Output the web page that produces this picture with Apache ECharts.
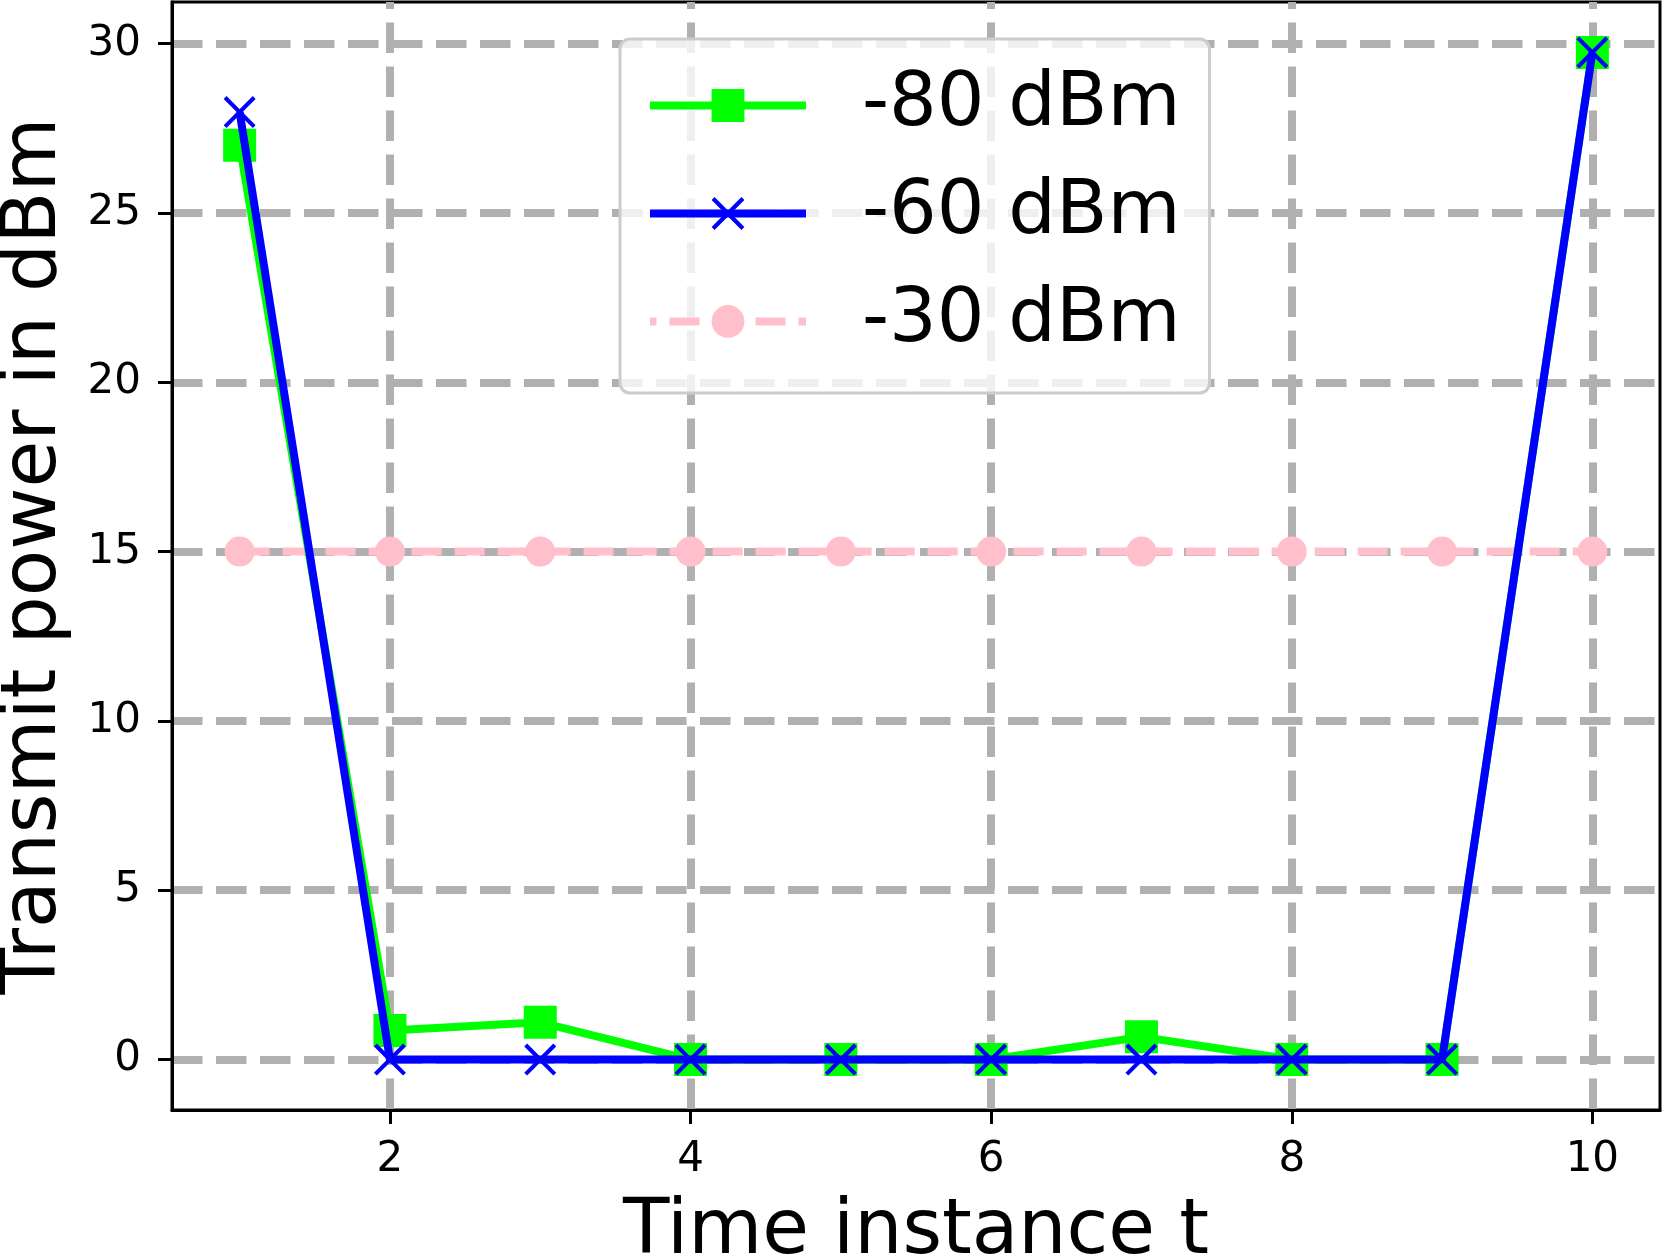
<!DOCTYPE html>
<html>
<head>
<meta charset="utf-8">
<title>Transmit power</title>
<script src="https://cdn.jsdelivr.net/npm/echarts@6/dist/echarts.min.js"></script>
<style>
  html, body { margin: 0; padding: 0; background: #fff; }
  #chart_con { width: 1662px; height: 1255px; }
</style>
</head>
<body>
<div id="chart_con"></div>
<script>
// data
const timeSteps = [1, 2, 3, 4, 5, 6, 7, 8, 9, 10];
const power80 = [27.0, 0.86, 1.1, 0, 0, 0, 0.67, 0, 0, 29.74];
const power60 = [27.98, 0, 0, 0, 0, 0, 0, 0, 0, 29.74];
const power30 = [15, 15, 15, 15, 15, 15, 15, 15, 15, 15];
const seriesNames = ["-80 dBm", "-60 dBm", "-30 dBm"];
const xTicks = [2, 4, 6, 8, 10];
const yTicks = [0, 5, 10, 15, 20, 25, 30];

const toPoints = vals => timeSteps.map((t, i) => [t, vals[i]]);

// x marker as two filled bars
const crossPath = "path://M0,9L9,0L100,91L91,100ZM91,0L100,9L9,100L0,91Z";
const fontName = "DejaVu Sans";
const gridLine = {
  color: "#b0b0b0",
  width: 8,
  type: [30.5, 13.5]
};

const chart = echarts.init(document.getElementById("chart_con"));

const option = {
  animation: false,
  backgroundColor: "#fff",
  textStyle: { fontFamily: fontName },
  grid: {
    left: 172,
    right: 2,
    top: 2,
    bottom: 145,
    containLabel: false,
    outerBoundsMode: "none",
    show: true,
    borderColor: "#000",
    borderWidth: 3,
    backgroundColor: "transparent"
  },
  legend: {
    orient: "vertical",
    left: 620,
    top: 39,
    padding: [29, 29, 34, 26],
    itemWidth: 156,
    itemHeight: 41,
    itemGap: 33,
    backgroundColor: "rgba(255,255,255,0.8)",
    borderColor: "#cccccc",
    borderWidth: 3,
    borderRadius: 10,
    data: seriesNames,
    lineStyle: { width: 8 },
    textStyle: {
      fontFamily: fontName,
      fontSize: 75,
      color: "#000",
      padding: [0, 0, 0, 51]
    }
  },
  xAxis: {
    type: "value",
    min: 0.55,
    max: 10.45,
    name: "Time instance t",
    nameLocation: "middle",
    nameGap: 85,
    nameTextStyle: { fontFamily: fontName, fontSize: 76, color: "#000" },
    axisLine: { show: true, onZero: false, lineStyle: { color: "#000", width: 3 } },
    axisTick: { show: true, length: 14, lineStyle: { color: "#000", width: 3 }, customValues: xTicks },
    axisLabel: { fontFamily: fontName, fontSize: 42, color: "#000", margin: 29, customValues: xTicks },
    splitLine: { show: true, lineStyle: Object.assign({ dashOffset: 23.5 }, gridLine) }
  },
  yAxis: {
    type: "value",
    min: -1.49,
    max: 31.23,
    name: "Transmit power in dBm",
    nameLocation: "middle",
    nameGap: 99,
    nameTextStyle: { fontFamily: fontName, fontSize: 76, color: "#000" },
    axisLine: { show: true, onZero: false, lineStyle: { color: "#000", width: 3 } },
    axisTick: { show: true, length: 14, lineStyle: { color: "#000", width: 3 }, customValues: yTicks },
    axisLabel: { fontFamily: fontName, fontSize: 42, color: "#000", margin: 31, customValues: yTicks },
    splitLine: { show: true, lineStyle: gridLine }
  },
  series: [
    {
      name: seriesNames[0],
      type: "line",
      z: 3,
      data: toPoints(power80),
      symbol: "rect",
      symbolSize: 33,
      lineStyle: { color: "#00ff00", width: 8 },
      itemStyle: { color: "#00ff00" }
    },
    {
      name: seriesNames[1],
      type: "line",
      z: 4,
      data: toPoints(power60),
      symbol: crossPath,
      symbolSize: 32,
      lineStyle: { color: "#0000ff", width: 8 },
      itemStyle: { color: "#0000ff" }
    },
    {
      name: seriesNames[2],
      type: "line",
      z: 2,
      data: toPoints(power30),
      symbol: "circle",
      symbolSize: 30,
      lineStyle: { color: "#ffc0cb", width: 8, type: [30, 13] },
      itemStyle: { color: "#ffc0cb" }
    }
  ]
};

chart.setOption(option);

window.addEventListener("resize", function () {
  chart.resize();
});
</script>
</body>
</html>
